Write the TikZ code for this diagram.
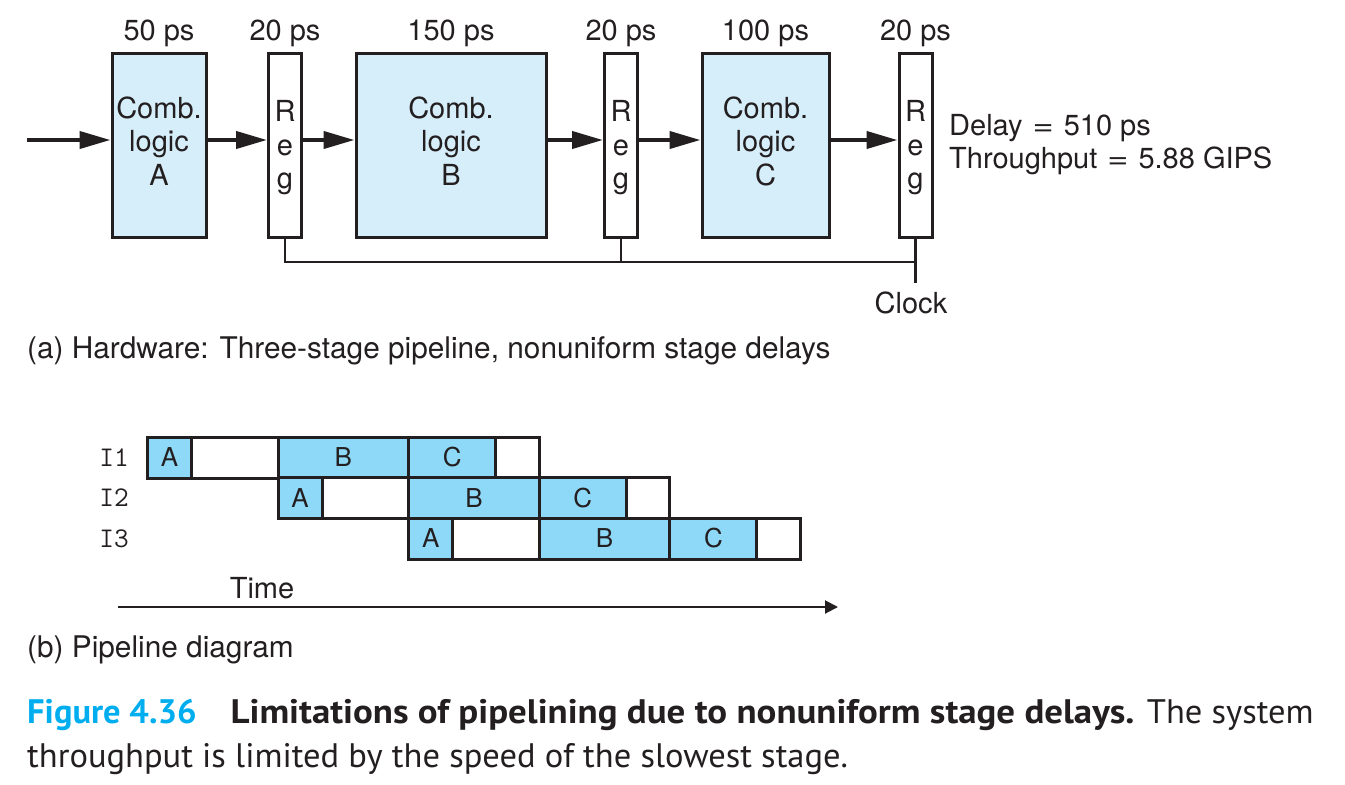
\documentclass[tikz,border=0pt]{standalone}
\usepackage{fontspec}
\setmainfont{TeX Gyre Heros}
\newfontfamily\capfont{PT Sans}[FakeStretch=1.015]
\newfontfamily\capwide{PT Sans}[FakeStretch=1.085]
\usetikzlibrary{arrows.meta}
\definecolor{ink}{HTML}{231F20}
\definecolor{combfill}{HTML}{D6EEFA}
\definecolor{cellfill}{HTML}{8ED8F8}
\definecolor{figcyan}{HTML}{00AEEF}
\newcommand\wideeq{\hspace{10pt}\scalebox{1.25}[1]{=}\hspace{10pt}}
\begin{document}
\begin{tikzpicture}[x=1pt,y=-1pt,
  txt/.style={font=\fontsize{29}{33.5}\selectfont, inner sep=0pt, text=ink},
  subcap/.style={anchor=base west, inner sep=0pt, text=ink, font=\fontsize{29.8}{33.5}\selectfont},
  comb/.style={draw=ink, line width=3pt, fill=combfill, minimum height=184pt, inner sep=0pt},
  regbox/.style={draw=ink, line width=3pt, fill=white, minimum width=33pt, minimum height=184pt, inner sep=0pt},
  flow/.style={draw=ink, line width=4pt, -{Triangle[length=31pt,width=17pt]}},
  clockline/.style={draw=ink, line width=2.7pt},
  cell/.style={draw=ink, line width=3pt, minimum height=41pt, inner sep=0pt, anchor=west, text=ink, font=\fontsize{26}{30}\selectfont},
  ilabel/.style={anchor=east, inner sep=0pt, text=ink, font=\fontsize{28.5}{30}\selectfont\ttfamily},
  captxt/.style={anchor=base west, inner sep=0pt, text=ink, font=\capfont\fontsize{34}{44}\selectfont}]
\useasboundingbox (0,0) rectangle (1345,785);
% ---------- hardware ----------
\node[comb, minimum width=94pt] (A) at (159,145) {};
\node[regbox] (R1) at (285,145) {};
\node[comb, minimum width=190pt] (B) at (451,145) {};
\node[regbox] (R2) at (621,145) {};
\node[comb, minimum width=127pt] (C) at (765.5,145) {};
\node[regbox] (R3) at (915.5,145) {};
\node[txt, align=center] (At) at (159,141) {Comb.\\logic\\A};
\node[txt, align=center] (Bt) at (451,141) {Comb.\\logic\\B};
\node[txt, align=center] (Ct) at (765.5,141) {Comb.\\logic\\C};
\node[txt, align=center] (R1t) at (285,148) {R\\e\\g};
\node[txt, align=center] (R2t) at (621,148) {R\\e\\g};
\node[txt, align=center] (R3t) at (915.5,148) {R\\e\\g};
\coordinate (top) at (0,40);
\node[txt, anchor=base] (dA) at (A |- top) {50 ps};
\node[txt, anchor=base] (d1) at (R1 |- top) {20 ps};
\node[txt, anchor=base] (dB) at (B |- top) {150 ps};
\node[txt, anchor=base] (d2) at (R2 |- top) {20 ps};
\node[txt, anchor=base] (dC) at (C |- top) {100 ps};
\node[txt, anchor=base] (d3) at (R3 |- top) {20 ps};
\coordinate (in) at (27,140);
\draw[flow] (in) -- (A.west |- in);
\draw[flow] (A.east |- in) -- (R1.west |- in);
\draw[flow] (R1.east |- in) -- (B.west |- in);
\draw[flow] (B.east |- in) -- (R2.west |- in);
\draw[flow] (R2.east |- in) -- (C.west |- in);
\draw[flow] (C.east |- in) -- (R3.west |- in);
\coordinate (bus) at (0,262);
\coordinate (clk) at (915.5,283);
\draw[clockline] (R1.south) |- (R3.south |- bus);
\draw[clockline] (R2.south) -- (R2.south |- bus);
\draw[clockline] (R3.south) -- (clk);
\node[txt, anchor=base] (clock) at (911,313) {Clock};
\node[txt, anchor=base west] (delay) at (949,135) {Delay\wideeq510 ps};
\node[txt, anchor=base west] (tput) at (949,168) {Throughput\wideeq5.88 GIPS};
\node[subcap] (capa) at (27,358) {(a) Hardware: Three-stage pipeline, nonuniform stage delays};
% ---------- pipeline diagram ----------
\foreach \r/\yc/\s in {1/457.5/0, 2/498/1, 3/538.5/2} {
  \node[cell, fill=cellfill, minimum width=44pt] (r\r A) at ({146+\s*130.6},\yc) {A};
  \node[cell, fill=white, minimum width=86.6pt] (r\r a) at ({190+\s*130.6},\yc) {};
  \node[cell, fill=cellfill, minimum width=130.6pt] (r\r B) at ({276.6+\s*130.6},\yc) {B};
  \node[cell, fill=cellfill, minimum width=87pt] (r\r C) at ({407.2+\s*130.6},\yc) {C};
  \node[cell, fill=white, minimum width=43.6pt] (r\r z) at ({494.2+\s*130.6},\yc) {};
  \node[ilabel] (I\r) at (129,\yc) {I\r};
}
\node[txt, anchor=base] (time) at (262,598) {Time};
\coordinate (t0) at (118,607);
\coordinate (t1) at (838,607);
\draw[draw=ink, line width=2pt, -{Triangle[length=13pt,width=13pt]}] (t0) -- (t1);
\node[subcap] (capb) at (27,657) {(b) Pipeline diagram};
% ---------- caption ----------
\node[captxt] (fig1) at (27,723) {{\color{figcyan}\bfseries Figure 4.36}\hspace{1em}{\capwide\bfseries Limitations of pipelining due to nonuniform stage delays.} The system};
\node[captxt] (fig2) at (27,767) {throughput is limited by the speed of the slowest stage.};
\end{tikzpicture}
\end{document}
